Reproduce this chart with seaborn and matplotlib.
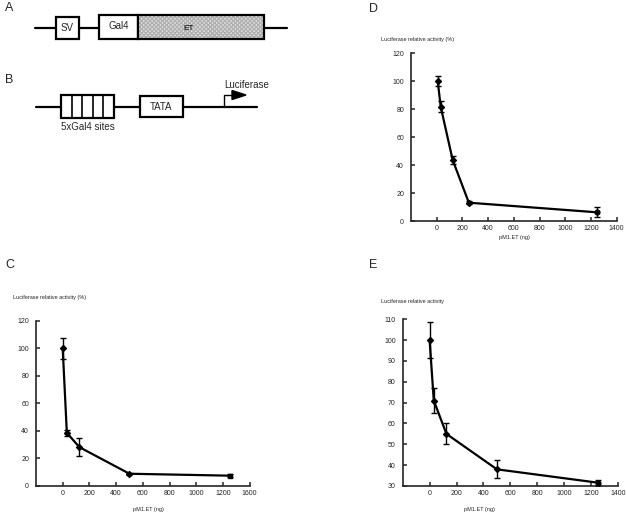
import seaborn as sns
import matplotlib
matplotlib.use("Agg")
import matplotlib.pyplot as plt
from matplotlib.patches import Rectangle, Polygon

# dose-response data (pM1.ET in ng, relative activity)
c_dose = [0, 31, 125, 500, 1250]
c_act = [100, 38.6, 28.2, 8.9, 7.5]
c_err = [7.7, 2.0, 6.3, 0.8, 1.0]

d_dose = [8, 31, 124, 250, 1250]
d_act = [100, 81.8, 43.7, 13.1, 6.2]
d_err = [3.5, 4.0, 3.0, 1.0, 3.5]

e_dose = [0, 31, 125, 500, 1250]
e_act = [100, 71, 55, 38, 31.6]
e_err = [8.5, 6.0, 5.0, 4.3, 1.5]

x_ticks = [0, 200, 400, 600, 800, 1000, 1200, 1400]
c_xticklabels = ["0", "200", "400", "600", "800", "1000", "1200", "1600"]

sns.set_theme(style="ticks")
plt.rcParams['font.family'] = ['Liberation Sans', 'DejaVu Sans']

W, H = 626, 517
fig = plt.figure(figsize=(W / 100, H / 100), dpi=100)

# --- schematic panels A and B, drawn in pixel space ---
bg = fig.add_axes([0, 0, 1, 1])
bg.set_xlim(0, W)
bg.set_ylim(H, 0)
bg.axis("off")

lw = 1.6
# A
bg.plot([35, 287], [28, 28], color="black", lw=lw, zorder=1)
bg.add_patch(Rectangle((56, 17), 23, 22, fc="white", ec="black", lw=lw, zorder=2))
bg.add_patch(Rectangle((99, 15), 39, 24, fc="white", ec="black", lw=lw, zorder=2))
bg.add_patch(Rectangle((138, 15), 126, 24, fc="#e6e6e6", ec="#b0b0b0", lw=0,
                       hatch="xxxxxxxx", zorder=2))
bg.add_patch(Rectangle((138, 15), 126, 24, fc="none", ec="black", lw=lw, zorder=3))
bg.text(67.5, 28, "SV", ha="center", va="center", fontsize=7)
bg.text(119, 26, "Gal4", ha="center", va="center", fontsize=7)
bg.text(189, 28, "ET", ha="center", va="center", fontsize=6, color="black")

# B
bg.plot([36, 257], [107, 107], color="black", lw=lw, zorder=1)
bg.add_patch(Rectangle((61, 95), 53, 23, fc="white", ec="black", lw=lw, zorder=2))
for i in range(1, 5):
    xx = 61 + i * 53 / 5
    bg.plot([xx, xx], [95, 118], color="black", lw=1.2, zorder=3)
bg.add_patch(Rectangle((140, 96), 43, 21, fc="white", ec="black", lw=lw, zorder=2))
bg.text(161, 107, "TATA", ha="center", va="center", fontsize=7)
bg.text(88, 127, "5xGal4 sites", ha="center", va="center", fontsize=7)
bg.plot([224, 224, 234], [107, 95, 95], color="black", lw=1.0, zorder=3)
bg.add_patch(Polygon([[232, 90.5], [246, 95], [232, 99.5]], closed=True,
                     fc="black", ec="black", zorder=3))
bg.text(224, 85, "Luciferase", ha="left", va="center", fontsize=7)

# panel letters
for lab, (px, py) in {"A": (9, 8), "B": (9, 80), "C": (10, 265),
                      "D": (374, 9), "E": (373, 265)}.items():
    bg.text(px, py, lab, ha="center", va="center", fontsize=9)


def dose_panel(rect, dose, act, err, ylim, yticks, ylabel, ylab_xy, xlab_xy,
               xticklabels, last_marker="o"):
    ax = fig.add_axes(rect)
    sns.lineplot(x=dose, y=act, ax=ax, color="black", lw=1.6, marker=None)
    ax.errorbar(dose, act, yerr=err, fmt="none", ecolor="black",
                elinewidth=1.0, capsize=2, capthick=1.0)
    ax.scatter(dose[:-1], act[:-1], marker="D", s=9, color="black", zorder=5)
    ax.scatter(dose[-1:], act[-1:], marker=last_marker, s=12, color="black", zorder=5)
    ax.set_xlim(-200, 1400)
    ax.set_ylim(*ylim)
    ax.set_xticks(x_ticks)
    ax.set_xticklabels(xticklabels)
    ax.set_yticks(yticks)
    ax.tick_params(direction="in", length=3, width=1.1, labelsize=5, pad=3)
    ax.tick_params(axis="y", pad=5)
    for s in ["left", "bottom"]:
        ax.spines[s].set_linewidth(1.2)
    sns.despine(ax=ax)
    ax.set_xlabel("")
    ax.set_ylabel("")
    ax.patch.set_alpha(0)
    bg.text(ylab_xy[0], ylab_xy[1], ylabel, ha="left", va="center", fontsize=4)
    bg.text(xlab_xy[0], xlab_xy[1], "pM1.ET (ng)", ha="center", va="center", fontsize=4)
    return ax


dose_panel([36 / W, 1 - 486 / H, 213.6 / W, 165.3 / H], c_dose, c_act, c_err,
           (0, 120), range(0, 121, 20), "Luciferase relative activity (%)",
           (13, 298), (148, 509), c_xticklabels, last_marker="s")
dose_panel([411 / W, 1 - 221 / H, 205.7 / W, 167.7 / H], d_dose, d_act, d_err,
           (0, 120), range(0, 121, 20), "Luciferase relative activity (%)",
           (381, 39), (514, 238), [str(t) for t in x_ticks])
dose_panel([402.7 / W, 1 - 486 / H, 215.3 / W, 166.7 / H], e_dose, e_act, e_err,
           (30, 110), range(30, 111, 10), "Luciferase relative activity",
           (381, 302), (479, 510), [str(t) for t in x_ticks])

fig.savefig("out.png", dpi=100)
